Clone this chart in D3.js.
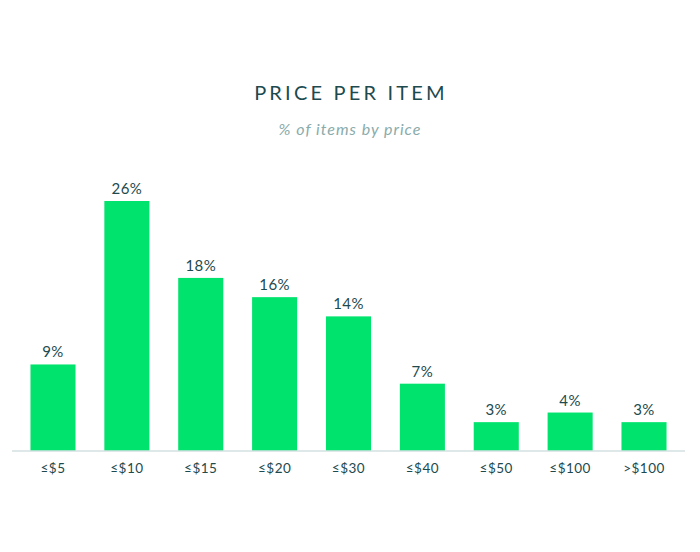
<!DOCTYPE html>
<html>
<head>
<meta charset="utf-8">
<script src="https://cdn.jsdelivr.net/npm/d3@7"></script>
<style>
  html, body { margin: 0; padding: 0; background: #ffffff; }
  svg { display: block; }
</style>
</head>
<body>
<svg id="chart" width="700" height="552"></svg>
<script>
const categories = ["≤$5", "≤$10", "≤$15", "≤$20", "≤$30", "≤$40", "≤$50", "≤$100", ">$100"];
const values = [9, 26, 18, 16, 14, 7, 3, 4, 3];
const valueLabels = ["9%", "26%", "18%", "16%", "14%", "7%", "3%", "4%", "3%"];
const titleText = "PRICE PER ITEM";
const subtitleText = "% of items by price";

const data = categories.map((c, i) => ({ cat: c, value: values[i], label: valueLabels[i] }));

const svg = d3.select("#chart");
const font = "Lato, 'Open Sans', sans-serif";
const dark = "#1d4a4e";

const x = d3.scaleBand()
  .domain(categories)
  .range([12, 685])
  .paddingInner(0.39)
  .paddingOuter(0.25);

const y = d3.scaleLinear().domain([0, 26]).range([451, 201]);

svg.append("text")
  .attr("x", 351).attr("y", 100)
  .attr("text-anchor", "middle")
  .attr("font-family", font)
  .attr("font-size", 20)
  .attr("letter-spacing", 3.2)
  .attr("fill", dark)
  .text(titleText);

svg.append("text")
  .attr("x", 350).attr("y", 135)
  .attr("text-anchor", "middle")
  .attr("font-family", font)
  .attr("font-style", "italic")
  .attr("font-size", 16)
  .attr("letter-spacing", 1.0)
  .attr("fill", "#8aabab")
  .text(subtitleText);

svg.append("g")
  .selectAll("rect")
  .data(data)
  .join("rect")
  .attr("x", d => x(d.cat))
  .attr("width", x.bandwidth())
  .attr("y", d => y(d.value))
  .attr("height", d => y(0) - y(d.value))
  .attr("fill", "#00e36c");

svg.append("g")
  .selectAll("text")
  .data(data)
  .join("text")
  .attr("x", d => x(d.cat) + x.bandwidth() / 2)
  .attr("y", d => y(d.value) - 7)
  .attr("text-anchor", "middle")
  .attr("font-family", font)
  .attr("font-size", 15)
  .attr("letter-spacing", 0.4)
  .attr("fill", dark)
  .text(d => d.label);

const axis = svg.append("g")
  .attr("transform", "translate(0,451)")
  .call(d3.axisBottom(x).tickSize(0).tickPadding(12));
axis.select(".domain").attr("stroke", "#d4e0e2").attr("stroke-width", 1.5)
  .attr("d", "M12,0H685");
axis.selectAll("text")
  .attr("font-family", font)
  .attr("font-size", 13.5)
  .attr("letter-spacing", 0.5)
  .attr("fill", dark);
</script>
</body>
</html>
